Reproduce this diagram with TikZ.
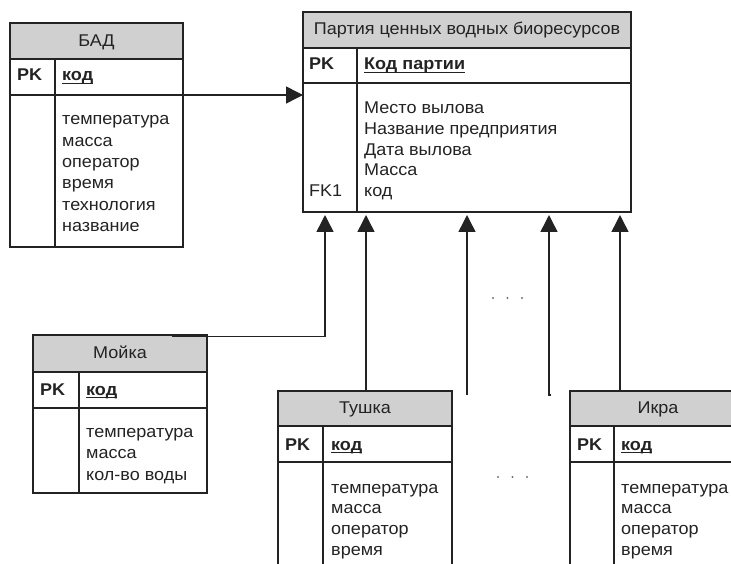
\documentclass[tikz,border=0pt]{standalone}
\usepackage{fontspec}
\setmainfont{Liberation Sans}[FakeStretch=1.06]
\usetikzlibrary{arrows.meta}

\definecolor{hdrgray}{RGB}{208,208,208}
\definecolor{ink}{RGB}{35,35,35}

\tikzset{
  x=1pt, y=-1pt,
  frame/.style={draw=ink, line width=1.3pt, inner sep=0pt, outer sep=0pt, anchor=north west},
  rule/.style={draw=ink, line width=1.3pt},
  txt/.style={font=\fontsize{17}{20}\selectfont, text=ink, inner sep=0pt, anchor=base west},
  ttl/.style={txt, anchor=base},
  conn/.style={draw=ink, line width=1.5pt},
  arr/.style={conn, -{Triangle[width=17pt,length=17pt]}},
  dotmark/.style={fill=black!55},
}

% key field: bold with a rule just under the baseline
\newcommand\keyfield[1]{\setbox0\hbox{\bfseries #1}\rlap{\color{ink}\vrule height -2pt depth 3.3pt width \wd0}\box0}

% entity frame: #1 name, #2 left, #3 top, #4 right, #5 bottom,
% #6 title bottom, #7 key row bottom, #8 column divider
\newcommand\erframe[8]{%
  \fill[hdrgray] (#2,#3) rectangle (#4,#6);
  \node[frame, minimum width={(#4-#2)*1pt}, minimum height={(#5-#3)*1pt}] (#1) at (#2,#3) {};
  \draw[rule] (#2,#6) -- (#4,#6);
  \draw[rule] (#2,#7) -- (#4,#7);
  \draw[rule] (#8,#6) -- (#8,#5);
}

% attribute lines: #1 prefix, #2 x, #3 first baseline, #4 step, #5 list
\newcommand\attrrows[5]{%
  \foreach \t [count=\i] in {#5}
    \node[txt] (#1-\i) at (#2, {#3+(\i-1)*#4}) {\t};
}

\begin{document}
\begin{tikzpicture}
\useasboundingbox (0,0) rectangle (731,564);
\clip (0,0) rectangle (731,564);

% ---- БАД ----
\erframe{bad}{10}{23}{183}{247}{59}{95}{55}
\node[ttl] (bad-title) at (96.5,47) {БАД};
\node[txt] (bad-pk) at (17,81) {\bfseries PK};
\node[txt] (bad-key) at (62,81) {\keyfield{код}};
\attrrows{bad}{62}{125}{21.3}{температура,масса,оператор,время,технология,название}

% ---- Партия ценных водных биоресурсов ----
\erframe{main}{303}{12}{631}{212}{48}{83}{357}
\node[ttl] (main-title) at (467,35) {Партия ценных водных биоресурсов};
\node[txt] (main-pk) at (309,70) {\bfseries PK};
\node[txt] (main-key) at (364,70) {\keyfield{Код партии}};
\attrrows{main}{364}{113.5}{20.8}{Место вылова,Название предприятия,Дата вылова,Масса,код}
\node[txt] (main-fk) at (309,196.7) {FK1};

% ---- Мойка ----
\erframe{moika}{33}{335}{207}{493}{372}{408}{79}
\node[ttl] (moika-title) at (120,358) {Мойка};
\node[txt] (moika-pk) at (40,395) {\bfseries PK};
\node[txt] (moika-key) at (86,395) {\keyfield{код}};
\attrrows{moika}{86}{437}{21.6}{температура,масса,кол-во воды}

% ---- Тушка ----
\erframe{tushka}{278}{391}{452}{590}{426}{462}{323}
\node[ttl] (tushka-title) at (365,413) {Тушка};
\node[txt] (tushka-pk) at (285,450) {\bfseries PK};
\node[txt] (tushka-key) at (331,450) {\keyfield{код}};
\attrrows{tushka}{331}{493}{20.7}{температура,масса,оператор,время}

% ---- Икра ----
\erframe{ikra}{570}{391}{745}{590}{426}{462}{614}
\node[ttl] (ikra-title) at (658,413) {Икра};
\node[txt] (ikra-pk) at (577,450) {\bfseries PK};
\node[txt] (ikra-key) at (621,450) {\keyfield{код}};
\attrrows{ikra}{621}{493}{20.7}{температура,масса,оператор,время}

% ---- connectors ----
\coordinate (bad-sep) at (10,95);
\draw[arr] (bad-sep -| bad.east) -- (bad-sep -| main.west);

\coordinate (moika-out) at (172,336.5);
\coordinate (bend) at (325,336.5);
\draw[arr] (moika-out) -- (bend) -- ([yshift=-3pt]bend |- main.south);

\coordinate (tushka-out) at (366,391);
\draw[arr] (tushka-out) -- ([yshift=-3pt]tushka-out |- main.south);

\coordinate (free-a) at (467,395);
\draw[arr] (free-a) -- ([yshift=-3pt]free-a |- main.south);

\coordinate (free-b) at (549,395);
\draw[arr] ([xshift=2pt]free-b) -- (free-b) -- ([yshift=-3pt]free-b |- main.south);

\coordinate (ikra-out) at (620,391);
\draw[arr] (ikra-out) -- ([yshift=-3pt]ikra-out |- main.south);

% ---- elision marks ----
\foreach \x in {493,507.5,522} \fill[dotmark] (\x,298) circle (1.1);
\foreach \x in {498,512.5,527} \fill[dotmark] (\x,477) circle (1.1);
\end{tikzpicture}
\end{document}
